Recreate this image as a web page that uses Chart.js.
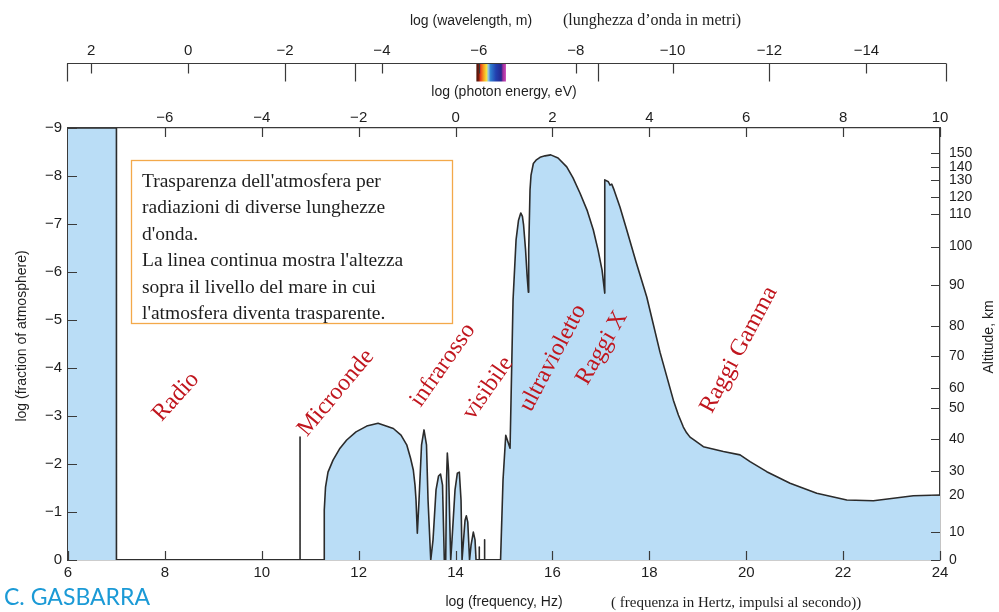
<!DOCTYPE html>
<html>
<head>
<meta charset="utf-8">
<script src="https://cdn.jsdelivr.net/npm/chart.js@4.4.1/dist/chart.umd.min.js"></script>
<style>
  html, body { margin: 0; padding: 0; background: #fff; }
  canvas { display: block; }
</style>
</head>
<body>
<canvas id="chart" width="999" height="612"></canvas>
<script>
'use strict';

/* ── Data ─────────────────────────────────────────────────── */
// transparency curve: log(frequency, Hz) vs log(fraction of atmosphere)
const curveFreq = [
  6, 7, 7, 10.79, 10.79, 10.79,
  11.285, 11.29, 11.316, 11.367, 11.471, 11.615, 11.753, 11.945, 12.166, 12.40,
  12.716, 12.874, 12.992, 13.07, 13.128, 13.163, 13.184, 13.211,
  13.246, 13.298, 13.349, 13.40, 13.432, 13.488,
  13.535, 13.597, 13.649, 13.69, 13.731, 13.768,
  13.797, 13.814, 13.83, 13.855, 13.90,
  13.927, 13.989, 14.037, 14.078, 14.113, 14.134,
  14.165, 14.196, 14.223, 14.252, 14.289,
  14.32, 14.367, 14.402, 14.423,
  14.49, 14.49, 14.49, 14.60, 14.60, 14.60,
  14.929, 14.98, 15.036, 15.125, 15.145, 15.187, 15.249, 15.30, 15.346, 15.38, 15.404, 15.445, 15.476, 15.503,
  15.51, 15.537, 15.558, 15.606, 15.661, 15.744, 15.847, 15.965, 16.116, 16.295, 16.425, 16.57, 16.714, 16.844, 16.941, 17.024, 17.08,
  17.08, 17.154, 17.189, 17.224, 17.272, 17.395, 17.534, 17.726, 17.947, 18.22, 18.496, 18.60, 18.702, 18.77, 18.84, 18.95,
  19.115, 19.528, 19.873, 20.079, 20.424, 20.905, 21.456, 22.076, 22.625, 23.04, 23.45, 24
];
const curveLogFrac = [
  -9, -9, 0, 0, -2.56, 0,
  0, -1.04, -1.52, -1.83, -2.08, -2.33, -2.50, -2.67, -2.79, -2.85,
  -2.74, -2.60, -2.40, -2.125, -1.875, -1.56, -1.25, -0.56,
  -1.25, -2.40, -2.71, -2.40, -1.25, 0,
  -0.42, -1.46, -1.75, -1.79, -1.56, 0,
  0, -1.67, -2.23, -1.875, 0,
  -0.42, -1.46, -1.81, -1.83, -1.25, 0,
  -0.42, -0.83, -0.92, -0.79, 0,
  -0.31, -0.58, -0.42, 0,
  0, -0.27, 0, 0, -0.42, 0,
  0, -1.67, -2.60, -2.33, -3.33, -5.42, -6.67, -7.08, -7.23, -7.16, -6.98, -6.46, -5.94, -5.58,
  -6.46, -7.71, -8.02, -8.26, -8.33, -8.39, -8.42, -8.44, -8.375, -8.19, -7.96, -7.64, -7.29, -6.875, -6.46, -6.04, -5.56,
  -7.92, -7.88, -7.81, -7.83, -7.71, -7.35, -6.875, -6.21, -5.48, -4.33, -3.33, -3.02, -2.77, -2.65, -2.56, -2.48,
  -2.36, -2.26, -2.19, -2.05, -1.84, -1.60, -1.39, -1.25, -1.235, -1.285, -1.34, -1.354
];

const freqTicks      = [6, 8, 10, 12, 14, 16, 18, 20, 22, 24];
const energyTicks    = [-6, -4, -2, 0, 2, 4, 6, 8, 10];
const waveTicks      = [2, 0, -2, -4, -6, -8, -10, -12, -14];
const waveLongTicks  = [2.5, -2, -3.45, -8.46, -12, -15.65];
const fracTicks      = [0, -1, -2, -3, -4, -5, -6, -7, -8, -9];
const altitudeKm     = [0, 10, 20, 30, 40, 50, 60, 70, 80, 90, 100, 110, 120, 130, 140, 150];
const altitudeLogFrac = [0, -0.59, -1.35, -1.86, -2.52, -3.17, -3.58, -4.25, -4.875, -5.73, -6.53, -7.20, -7.56, -7.92, -8.19, -8.48];
const visibleBand    = [-5.95, -6.56];   // log wavelength span of the colour strip

/* ── Styles ──────────────────────────────────────────────── */
const SANS  = "'Liberation Sans', Arial, sans-serif";
const SERIF = "'Liberation Serif', 'Times New Roman', serif";
const AXIS  = '#3a3a3a';
const INK   = '#1e1e1e';
const FILL  = 'rgb(186,221,246)';
const RED   = '#c0161e';

const minus = v => (v < 0 ? '\u2212' + Math.abs(v) : String(v));

const regionLabels = [
  { text: 'Radio',         f: 8.23,  v: -3.40, rot: -48 },
  { text: 'Microonde',     f: 11.53, v: -3.48, rot: -50 },
  { text: 'infrarosso',    f: 13.74, v: -4.06, rot: -55 },
  { text: 'visibile',      f: 14.67, v: -3.58, rot: -55 },
  { text: 'ultravioletto', f: 16.01, v: -4.21, rot: -62 },
  { text: 'Raggi X',       f: 17.02, v: -4.42, rot: -60 },
  { text: 'Raggi Gamma',   f: 19.85, v: -4.38, rot: -62 },
];

const noteLines = [
  "Trasparenza dell'atmosfera per",
  'radiazioni di diverse lunghezze',
  "d'onda.",
  "La linea continua mostra l'altezza",
  'sopra il livello del mare in cui',
  "l'atmosfera diventa trasparente.",
];

/* ── Decorations drawn through the chart scales ───────────── */
const decor = {
  id: 'decor',
  afterDatasetsDraw(chart) {
    const { ctx, chartArea: a, scales } = chart;
    ctx.save();

    // inward tick marks
    ctx.strokeStyle = AXIS;
    ctx.lineWidth = 1.2;
    ctx.beginPath();
    freqTicks.forEach(v => {
      const p = Math.round(scales.x.getPixelForValue(v)) + 0.5;
      ctx.moveTo(p, a.bottom); ctx.lineTo(p, a.bottom - 9);
    });
    energyTicks.forEach(v => {
      const p = Math.round(scales.xe.getPixelForValue(v)) + 0.5;
      ctx.moveTo(p, a.top); ctx.lineTo(p, a.top + 9);
    });
    fracTicks.forEach(v => {
      const p = Math.round(scales.y.getPixelForValue(v)) + 0.5;
      ctx.moveTo(a.left, p); ctx.lineTo(a.left + 9, p);
    });
    altitudeLogFrac.forEach(v => {
      const p = Math.round(scales.yAlt.getPixelForValue(v)) + 0.5;
      ctx.moveTo(a.right, p); ctx.lineTo(a.right - 9, p);
    });
    ctx.stroke();

    // note box
    ctx.fillStyle = '#fff';
    ctx.fillRect(131.5, 160.5, 321, 163);
    ctx.strokeStyle = '#f3a94a';
    ctx.lineWidth = 1.3;
    ctx.strokeRect(131.5, 160.5, 321, 163);
    ctx.fillStyle = INK;
    ctx.font = '19.5px ' + SERIF;
    ctx.textAlign = 'left';
    ctx.textBaseline = 'alphabetic';
    noteLines.forEach((t, i) => ctx.fillText(t, 142, 187 + i * 26.4));

    // band names
    ctx.fillStyle = RED;
    ctx.font = '24px ' + SERIF;
    ctx.textAlign = 'center';
    ctx.textBaseline = 'middle';
    regionLabels.forEach(l => {
      ctx.save();
      ctx.translate(scales.x.getPixelForValue(l.f), scales.y.getPixelForValue(l.v));
      ctx.rotate(l.rot * Math.PI / 180);
      ctx.fillText(l.text, 0, 0);
      ctx.restore();
    });
    ctx.restore();
  },
  afterDraw(chart) {
    const { ctx, scales } = chart;
    const xw = scales.xw;
    const base = Math.round(xw.bottom) + 0.5;
    ctx.save();

    // visible colour strip on the wavelength axis
    const s0 = xw.getPixelForValue(visibleBand[0]);
    const s1 = xw.getPixelForValue(visibleBand[1]);
    const g = ctx.createLinearGradient(s0, 0, s1, 0);
    g.addColorStop(0.00, '#4a140a');
    g.addColorStop(0.08, '#7a1a0c');
    g.addColorStop(0.14, '#e8401c');
    g.addColorStop(0.24, '#f79a1e');
    g.addColorStop(0.34, '#f4e23a');
    g.addColorStop(0.40, '#9cc8e0');
    g.addColorStop(0.48, '#2f7fd0');
    g.addColorStop(0.66, '#2240b0');
    g.addColorStop(0.84, '#25288e');
    g.addColorStop(0.90, '#a0309c');
    g.addColorStop(1.00, '#cc48b8');
    ctx.fillStyle = g;
    ctx.fillRect(s0, base, s1 - s0, 18);

    // wavelength axis line and ticks
    ctx.strokeStyle = AXIS;
    ctx.lineWidth = 1.2;
    ctx.beginPath();
    ctx.moveTo(xw.getPixelForValue(waveLongTicks[0]), base);
    ctx.lineTo(xw.getPixelForValue(waveLongTicks[waveLongTicks.length - 1]), base);
    waveTicks.forEach(v => {
      const p = Math.round(xw.getPixelForValue(v)) + 0.5;
      ctx.moveTo(p, base); ctx.lineTo(p, base + 10);
    });
    waveLongTicks.forEach(v => {
      const p = Math.round(xw.getPixelForValue(v)) + 0.5;
      ctx.moveTo(p, base); ctx.lineTo(p, base + 18);
    });
    ctx.stroke();

    // titles
    ctx.fillStyle = INK;
    ctx.textBaseline = 'middle';
    ctx.font = '14px ' + SANS;
    ctx.textAlign = 'center';
    ctx.fillText('log (wavelength, m)', 471, 21);
    ctx.font = '16px ' + SERIF;
    ctx.textAlign = 'left';
    ctx.fillText("(lunghezza d\u2019onda in metri)", 563, 21);
    ctx.font = '15px ' + SERIF;
    ctx.fillText('( frequenza in Hertz, impulsi al secondo))', 611, 603);

    ctx.font = '14px ' + SANS;
    ctx.textAlign = 'center';
    ctx.save();
    ctx.translate(22, 336);
    ctx.rotate(-Math.PI / 2);
    ctx.fillText('log (fraction of atmosphere)', 0, 0);
    ctx.restore();
    ctx.save();
    ctx.translate(989, 337);
    ctx.rotate(-Math.PI / 2);
    ctx.fillText('Altitude, km', 0, 0);
    ctx.restore();

    // credit
    ctx.fillStyle = '#1b9ad6';
    ctx.font = '23px Lato, ' + SANS;
    ctx.textAlign = 'left';
    ctx.fillText('C. GASBARRA', 4, 598);
    ctx.restore();
  }
};

/* ── Chart ──────────────────────────────────────────────── */
const tickFont = { family: SANS, size: 15 };
const ticksFrom = arr => scale => { scale.ticks = arr.map(v => ({ value: v })); };

new Chart(document.getElementById('chart'), {
  type: 'line',
  data: {
    datasets: [{
      data: curveFreq.map((f, i) => ({ x: f, y: curveLogFrac[i] })),
      xAxisID: 'x',
      yAxisID: 'y',
      borderColor: '#2b2b2b',
      borderWidth: 1.6,
      backgroundColor: FILL,
      fill: 'origin',
      tension: 0,
      pointRadius: 0,
      borderJoinStyle: 'round',
    }]
  },
  options: {
    responsive: false,
    animation: false,
    devicePixelRatio: 1,
    layout: { padding: 0 },
    plugins: { legend: { display: false }, tooltip: { enabled: false } },
    scales: {
      x: {
        type: 'linear', position: 'bottom', min: 6, max: 24,
        afterBuildTicks: ticksFrom(freqTicks),
        afterFit: s => { s.height = 52; },
        grid: { display: false, drawTicks: false },
        border: { display: true, color: AXIS, width: 1.3 },
        ticks: { autoSkip: false, maxRotation: 0, padding: 4, color: INK, font: tickFont, callback: minus },
        title: { display: true, text: 'log (frequency, Hz)', color: INK, font: { family: SANS, size: 14 }, padding: { top: 0, bottom: 1 } }
      },
      xe: {
        type: 'linear', position: 'top', min: -8, max: 10, weight: 1,
        afterBuildTicks: ticksFrom(energyTicks),
        afterFit: s => { s.height = 65; },
        grid: { display: false, drawTicks: false },
        border: { display: true, color: AXIS, width: 1.3 },
        ticks: { autoSkip: false, maxRotation: 0, padding: 1, color: INK, font: tickFont, callback: minus },
        title: { display: true, text: 'log (photon energy, eV)', color: INK, font: { family: SANS, size: 14 }, padding: { top: 21, bottom: 0 } }
      },
      xw: {
        type: 'linear', position: 'top', min: 8.48 - 24, max: 8.48 - 6, reverse: true, weight: 2,
        afterBuildTicks: ticksFrom(waveTicks),
        afterFit: s => { s.height = 63; },
        grid: { display: false, drawTicks: false },
        border: { display: false },
        ticks: { autoSkip: false, maxRotation: 0, padding: 3, color: INK, font: tickFont, callback: minus }
      },
      y: {
        type: 'linear', position: 'left', min: -9, max: 0, reverse: true,
        afterBuildTicks: ticksFrom(fracTicks),
        afterFit: s => { s.width = 68; },
        grid: { display: false, drawTicks: false },
        border: { display: true, color: AXIS, width: 1.3 },
        ticks: { autoSkip: false, padding: 6, color: INK, font: tickFont, callback: minus }
      },
      yAlt: {
        type: 'linear', position: 'right', min: -9, max: 0, reverse: true,
        afterBuildTicks: ticksFrom(altitudeLogFrac),
        afterFit: s => { s.width = 59; },
        grid: { display: false, drawTicks: false },
        border: { display: true, color: AXIS, width: 1.3 },
        ticks: { autoSkip: false, padding: 9, color: INK, font: { family: SANS, size: 14 },
                 callback: (v, i) => String(altitudeKm[i]) }
      }
    }
  },
  plugins: [decor]
});
</script>
</body>
</html>
